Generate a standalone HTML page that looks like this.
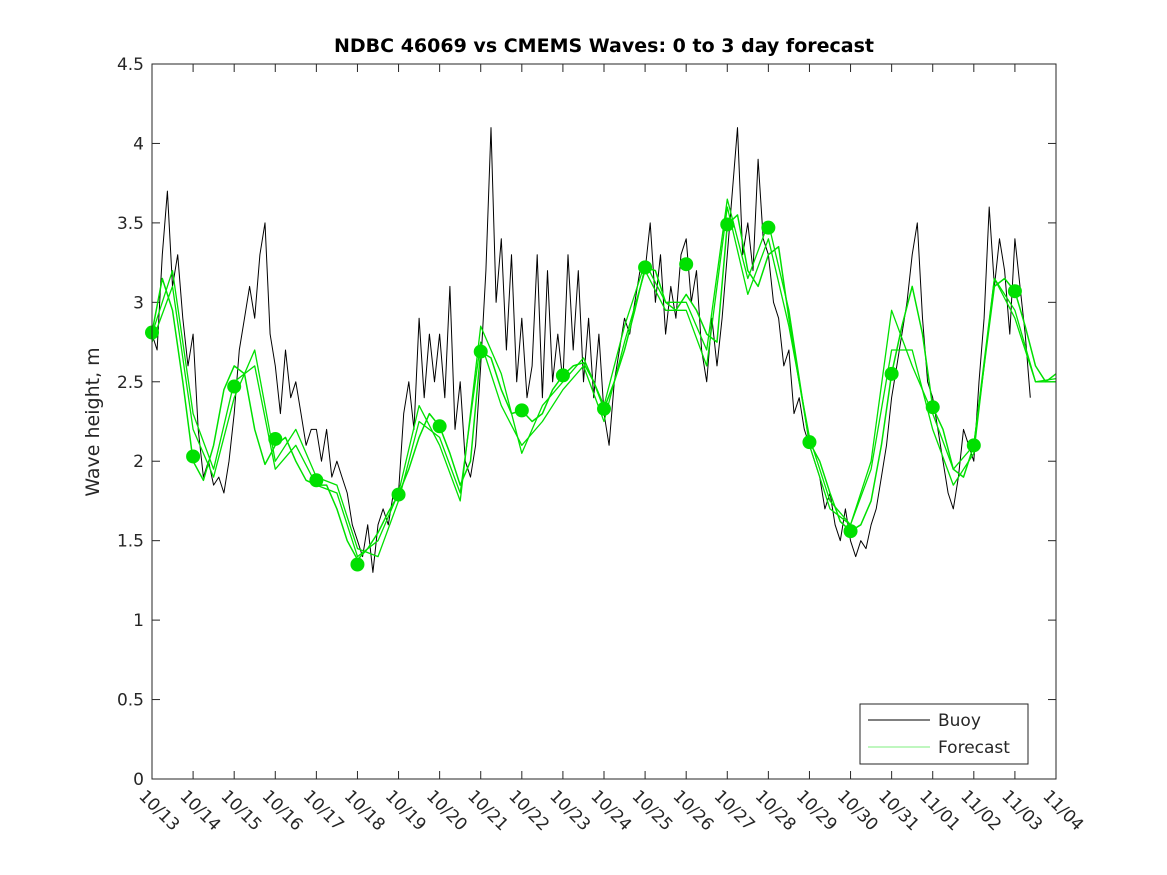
<!DOCTYPE html>
<html><head><meta charset="utf-8"><style>
body{margin:0;background:#fff;}
svg{display:block;font-family:"DejaVu Sans","Liberation Sans",sans-serif;}
</style></head><body>
<svg id="chart" width="1167" height="875">
<rect x="0" y="0" width="1167" height="875" fill="#fff"/>
<text x="604" y="52" text-anchor="middle" font-size="19" font-weight="bold">NDBC 46069 vs CMEMS Waves: 0 to 3 day forecast</text>
<text transform="translate(99,422) rotate(-90)" text-anchor="middle" font-size="19" fill="#262626">Wave height, m</text>
<g id="grid"></g>
<g id="series"></g>
<rect x="152" y="64" width="904" height="715" fill="none" stroke="#262626" stroke-width="1"/>
<g>
<rect x="860" y="704" width="168" height="60" fill="#fff" stroke="#262626"/>
<line x1="868" y1="720" x2="930" y2="720" stroke="#000" stroke-width="1"/>
<text x="938" y="726" font-size="17" fill="#262626">Buoy</text>
<line x1="868" y1="747" x2="930" y2="747" stroke="#00e000" stroke-width="0.6"/>
<text x="938" y="753" font-size="17" fill="#262626">Forecast</text>
</g>
</svg>
<script>
const dayLabels=["10/13","10/14","10/15","10/16","10/17","10/18","10/19","10/20","10/21","10/22","10/23","10/24","10/25","10/26","10/27","10/28","10/29","10/30","10/31","11/01","11/02","11/03","11/04"];
const yTicks=[0,0.5,1,1.5,2,2.5,3,3.5,4,4.5];
const buoy=[2.8,2.7,3.3,3.7,3.1,3.3,2.9,2.6, 2.8,2.2,1.9,2.0,1.85,1.9,1.8,2.0, 2.3,2.7,2.9,3.1,2.9,3.3,3.5,2.8, 2.6,2.3,2.7,2.4,2.5,2.3,2.1,2.2, 2.2,2.0,2.2,1.9,2.0,1.9,1.8,1.6, 1.5,1.4,1.6,1.3,1.6,1.7,1.6,1.8, 1.8,2.3,2.5,2.2,2.9,2.4,2.8,2.5, 2.8,2.4,3.1,2.2,2.5,2.0,1.9,2.1, 2.6,3.2,4.1,3.0,3.4,2.7,3.3,2.5, 2.9,2.4,2.6,3.3,2.4,3.2,2.5,2.8, 2.5,3.3,2.7,3.2,2.5,2.9,2.4,2.8, 2.3,2.1,2.5,2.7,2.9,2.8,3.0,3.2, 3.2,3.5,3.0,3.3,2.8,3.1,2.9,3.3, 3.4,3.0,3.2,2.7,2.5,2.9,2.6,2.9, 3.3,3.7,4.1,3.3,3.5,3.2,3.9,3.4, 3.3,3.0,2.9,2.6,2.7,2.3,2.4,2.2, 2.1,2.0,1.9,1.7,1.8,1.6,1.5,1.7, 1.5,1.4,1.5,1.45,1.6,1.7,1.9,2.1, 2.4,2.6,2.8,3.0,3.3,3.5,2.9,2.5, 2.4,2.2,2.0,1.8,1.7,1.9,2.2,2.1, 2.0,2.5,2.9,3.6,3.1,3.4,3.2,2.8, 3.4,3.1,2.8,2.4];
const forecast1=[2.81,3.15,2.95,2.5, 2.0,1.88,2.1,2.45, 2.6,2.55,2.2,1.98, 2.1,2.15,2.0,1.88, 1.85,1.85,1.7,1.5, 1.38,1.45,1.55,1.68, 1.79,1.95,2.15,2.3, 2.22,2.05,1.85,2.0, 2.69,2.65,2.45,2.3, 2.32,2.25,2.3,2.45, 2.54,2.6,2.62,2.5, 2.33,2.5,2.7,2.95, 3.22,3.2,3.0,2.95, 3.05,2.95,2.8,2.75, 3.49,3.55,3.2,3.1, 3.3,3.35,2.9,2.5, 2.12,2.0,1.8,1.62, 1.56,1.6,1.75,2.1, 2.55,2.85,3.1,2.8, 2.34,2.2,1.95,1.9, 2.1,2.6,3.1,3.15, 3.07,2.85,2.6,2.5, 2.55];
const forecast2=[2.75,3.1,2.2,1.9,2.4,2.7,2.0,2.2,1.9,1.85,1.45,1.4,1.75,2.25,2.15,1.8,2.75,2.35,2.1,2.25,2.45,2.6,2.25,2.75,3.2,2.95,2.95,2.6,3.6,3.05,3.4,2.85,2.15,1.75,1.6,1.95,2.7,2.7,2.2,1.85,2.05,3.15,2.95,2.5,2.5];
const forecast3=[2.8,3.2,2.3,1.95,2.5,2.6,1.95,2.1,1.85,1.8,1.4,1.5,1.8,2.35,2.1,1.75,2.85,2.55,2.05,2.35,2.5,2.65,2.35,2.85,3.25,3.0,3.0,2.7,3.65,3.15,3.5,2.95,2.1,1.7,1.6,2.0,2.95,2.6,2.3,1.95,2.1,3.15,2.9,2.5,2.52];
const markerVals=[2.81,2.03,2.47,2.14,1.88,1.35,1.79,2.22,2.69,2.32,2.54,2.33,3.22,3.24,3.49,3.47,2.12,1.56,2.55,2.34,2.10,3.07];

const NS="http://www.w3.org/2000/svg";
const X0=152,X1=1056,Y0=779,Y1=64,NDAYS=22,YMAX=4.5;
function xs(d){return X0+(X1-X0)*d/NDAYS;}
function ys(v){return Y0-(Y0-Y1)*v/YMAX;}
function mk(tag,attrs,parent){const e=document.createElementNS(NS,tag);for(const k in attrs)e.setAttribute(k,attrs[k]);parent.appendChild(e);return e;}
const grid=document.getElementById('grid'),ser=document.getElementById('series');
yTicks.forEach(v=>{
  const t=mk('line',{x1:X0,x2:X0+8,y1:ys(v),y2:ys(v),stroke:'#262626'},grid);
  
  
  const t2=mk('line',{x1:X1-8,x2:X1,y1:ys(v),y2:ys(v),stroke:'#262626'},grid);
  
  
  const l=mk('text',{x:X0-8,y:ys(v)+6,'text-anchor':'end','font-size':17,fill:'#262626'},grid);
  l.textContent=String(v);
  
  
});
dayLabels.forEach((s,i)=>{
  const x=xs(i);
  const t=mk('line',{x1:x,x2:x,y1:Y0,y2:Y0-8,stroke:'#262626'},grid);
  
  
  const t2=mk('line',{x1:x,x2:x,y1:Y1,y2:Y1+8,stroke:'#262626'},grid);
  
  
  const l=mk('text',{transform:`translate(${x-14},${Y0+18}) rotate(45)`,'font-size':17,fill:'#262626'},grid);
  l.textContent=s;
  
  
});
function line(arr,step,color,w,name){
  const p=arr.map((v,i)=>`${i?'L':'M'}${xs(i*step).toFixed(1)},${ys(v).toFixed(1)}`).join('');
  const e=mk('path',{d:p,fill:'none',stroke:color,'stroke-width':w,'stroke-linejoin':'round'},ser);
  
  
}
line(buoy,0.125,'#000',1,'buoy-line');
line(forecast2,0.5,'#00e000',1.3,'forecast-line-2');
line(forecast3,0.5,'#00e000',1.3,'forecast-line-3');
line(forecast1,0.25,'#00e000',1.5,'forecast-line-1');
markerVals.forEach((v,i)=>{
  const c=mk('circle',{cx:xs(i),cy:ys(v),r:7,fill:'#00e000'},ser);
  
  
});
</script>
</body></html>
